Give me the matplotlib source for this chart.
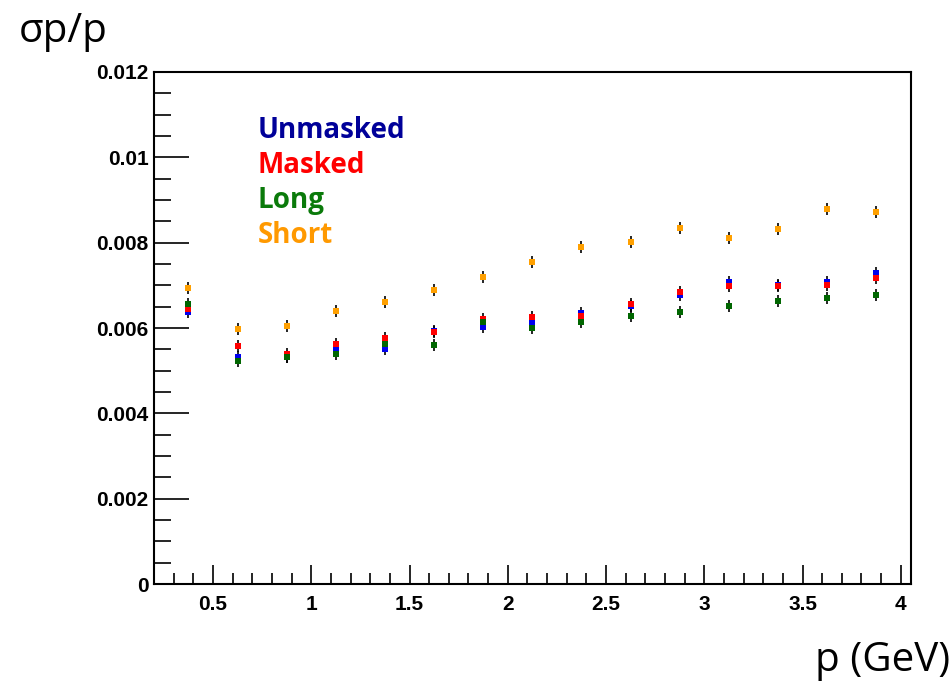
import matplotlib.pyplot as plt
from matplotlib.ticker import MultipleLocator, FixedLocator, FuncFormatter

# momentum bin centres (GeV)
p = [0.375, 0.625, 0.875, 1.125, 1.375, 1.625, 1.875, 2.125,
     2.375, 2.625, 2.875, 3.125, 3.375, 3.625, 3.875]

# momentum resolution sigma_p / p for each track sample
unmasked = [0.00638, 0.00533, 0.00532, 0.00551, 0.00551, 0.00592, 0.00603, 0.00613,
            0.00635, 0.00652, 0.00678, 0.00707, 0.00700, 0.00709, 0.00729]
masked = [0.00645, 0.00557, 0.00539, 0.00562, 0.00576, 0.00591, 0.00621, 0.00625,
          0.00628, 0.00656, 0.00684, 0.00698, 0.00698, 0.00701, 0.00717]
long_tr = [0.00656, 0.00523, 0.00531, 0.00540, 0.00562, 0.00560, 0.00613, 0.00599,
           0.00613, 0.00628, 0.00637, 0.00652, 0.00664, 0.00670, 0.00678]
short_tr = [0.00693, 0.00598, 0.00604, 0.00639, 0.00662, 0.00689, 0.00719, 0.00755,
            0.00790, 0.00802, 0.00835, 0.00812, 0.00833, 0.00880, 0.00871]
err = 0.00014

series = [('Unmasked', unmasked, '#0000ee', '#000099'),
          ('Masked', masked, '#ff0000', '#ff0000'),
          ('Long', long_tr, '#006600', '#0a7a0a'),
          ('Short', short_tr, '#ffa000', '#ff9900')]

fig = plt.figure(figsize=(9.51, 6.85), dpi=100)
ax = fig.add_axes([0.162, 0.1474, 0.7955, 0.7475])

for name, vals, col, txtcol in series:
    ax.errorbar(p, vals, yerr=err, fmt='s', color=col, markersize=4.5,
                ecolor='black', elinewidth=1.2, capsize=4, capthick=1.4,
                markeredgewidth=0, zorder=3)

ax.set_xlim(0.2, 4.05)
ax.set_ylim(0, 0.012)

ax.xaxis.set_major_locator(FixedLocator([0.5, 1, 1.5, 2, 2.5, 3, 3.5, 4]))
ax.xaxis.set_minor_locator(MultipleLocator(0.1))
ax.yaxis.set_major_locator(MultipleLocator(0.002))
ax.yaxis.set_minor_locator(MultipleLocator(0.0005))
ax.xaxis.set_major_formatter(FuncFormatter(lambda v, pos: '%g' % v))
ax.yaxis.set_major_formatter(FuncFormatter(lambda v, pos: '%g' % round(v, 4)))

ax.tick_params(axis='both', which='both', direction='in', top=False, right=False,
               width=1.2, labelsize=15)
ax.tick_params(axis='y', which='major', length=25, pad=4)
ax.tick_params(axis='y', which='minor', length=12)
ax.tick_params(axis='x', which='major', length=14, pad=8)
ax.tick_params(axis='x', which='minor', length=8)
for lab in ax.get_xticklabels() + ax.get_yticklabels():
    lab.set_fontweight('bold')
    lab.set_family('Liberation Sans')
for sp in ax.spines.values():
    sp.set_linewidth(1.5)

# coloured labels for each sample
for i, (name, vals, col, txtcol) in enumerate(series):
    ax.text(0.137, 0.886 - i * 0.0685, name, transform=ax.transAxes, color=txtcol,
            fontsize=20, fontweight='bold', family='Open Sans', va='center', ha='left')

fig.text(0.02, 0.953, 'σp/p', fontsize=29, family='Open Sans', va='center', ha='left')
fig.text(0.999, 0.035, 'p (GeV)', fontsize=29, family='Open Sans', va='center', ha='right')

plt.savefig('out.png', dpi=100)
